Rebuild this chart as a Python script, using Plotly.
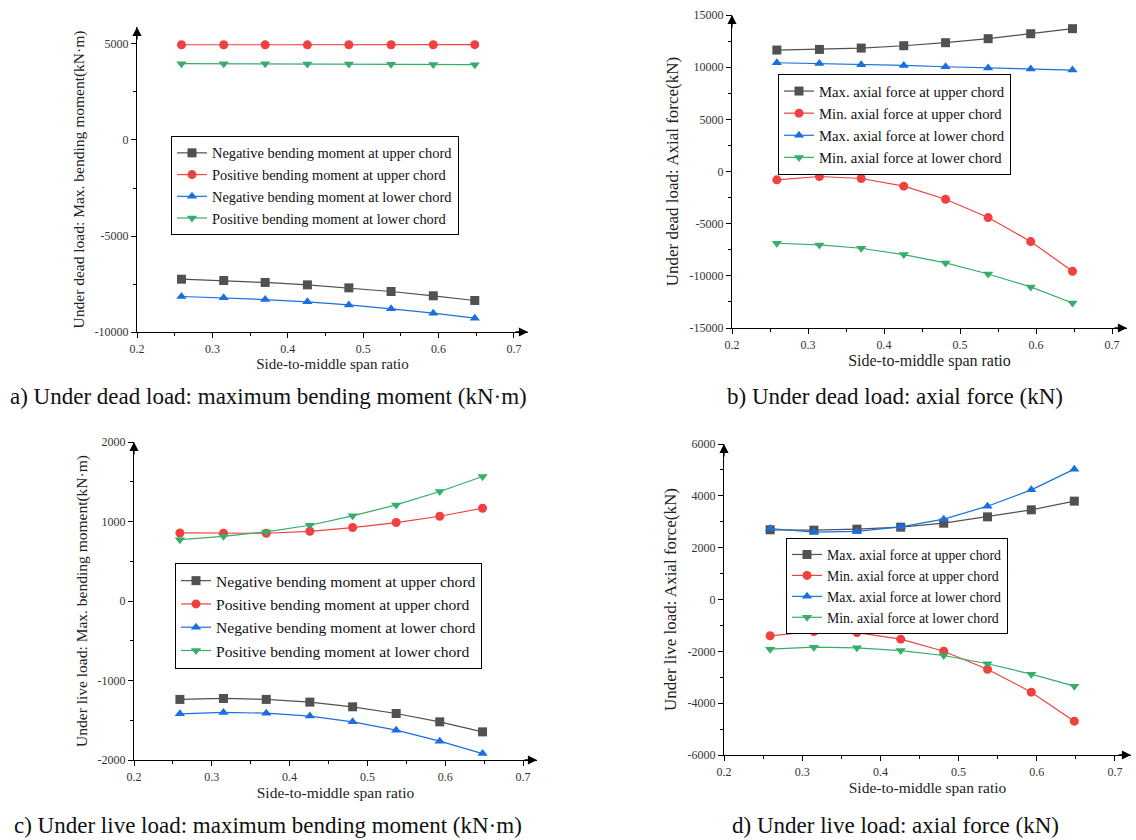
import plotly.graph_objects as go

# ---------------- data ----------------
ratio = [0.259, 0.315, 0.370, 0.426, 0.481, 0.537, 0.593, 0.648]

# a) dead load bending moment (kN·m)
a_neg_upper = [-7250, -7320, -7420, -7545, -7700, -7890, -8115, -8360]
a_pos_upper = [4960, 4958, 4957, 4956, 4958, 4960, 4962, 4965]
a_neg_lower = [-8150, -8220, -8310, -8430, -8590, -8795, -9020, -9280]
a_pos_lower = [3975, 3972, 3968, 3963, 3957, 3948, 3937, 3922]

# b) dead load axial force (kN)
b_max_upper = [11640, 11700, 11830, 12055, 12345, 12730, 13205, 13690]
b_min_upper = [-800, -480, -670, -1405, -2655, -4415, -6715, -9560]
b_max_lower = [10425, 10360, 10235, 10170, 10040, 9915, 9820, 9720]
b_min_lower = [-6875, -7035, -7355, -7965, -8760, -9820, -11065, -12600]

# c) live load bending moment (kN·m)
c_neg_upper = [-1238, -1226, -1238, -1272, -1331, -1415, -1520, -1646]
c_pos_upper = [856, 852, 852, 877, 924, 987, 1066, 1167]
c_neg_lower = [-1419, -1402, -1411, -1448, -1520, -1625, -1763, -1919]
c_pos_lower = [772, 814, 869, 953, 1071, 1209, 1377, 1566]

# d) live load axial force (kN)
d_max_upper = [2690, 2675, 2715, 2790, 2945, 3190, 3460, 3795]
d_min_upper = [-1400, -1235, -1275, -1530, -1995, -2690, -3575, -4695]
d_max_lower = [2740, 2600, 2625, 2805, 3100, 3600, 4230, 5030]
d_min_lower = [-1915, -1840, -1865, -1970, -2160, -2480, -2880, -3345]

names_moment = ["Negative bending moment at upper chord",
                "Positive bending moment at upper chord",
                "Negative bending moment at lower chord",
                "Positive bending moment at lower chord"]
names_axial = ["Max. axial force at upper chord",
               "Min. axial force at upper chord",
               "Max. axial force at lower chord",
               "Min. axial force at lower chord"]

x_ticks = [0.2, 0.3, 0.4, 0.5, 0.6, 0.7]
x_ticktext = ["0.2", "0.3", "0.4", "0.5", "0.6", "0.7"]
a_yticks = [-10000, -5000, 0, 5000]
a_ytext = ["-10000", "-5000", "0", "5000"]
b_yticks = [-15000, -10000, -5000, 0, 5000, 10000, 15000]
b_ytext = ["-15000", "-10000", "-5000", "0", "5000", "10000", "15000"]
c_yticks = [-2000, -1000, 0, 1000, 2000]
c_ytext = ["-2000", "-1000", "0", "1000", "2000"]
d_yticks = [-6000, -4000, -2000, 0, 2000, 4000, 6000]
d_ytext = ["-6000", "-4000", "-2000", "0", "2000", "4000", "6000"]

y_title_a = "Under dead load: Max. bending moment(kN·m)"
y_title_b = "Under dead load: Axial force(kN)"
y_title_c = "Under live load: Max. bending moment(kN·m)"
y_title_d = "Under live load: Axial force(kN)"
x_title = "Side-to-middle span ratio"
captions = ["a) Under dead load: maximum bending moment (kN·m)",
            "b) Under dead load: axial force (kN)",
            "c) Under live load: maximum bending moment (kN·m)",
            "d) Under live load: axial force (kN)"]

# ---------------- style ----------------
W, H = 1136, 840
FONT = "Liberation Serif"
colors = ["#515151", "#F14040", "#1A6FDF", "#37AD6B"]
symbols = ["square", "circle", "triangle-up", "triangle-down"]

def px_x(p):
    return p / W

def px_y(p):
    return 1 - p / H

fig = go.Figure()

panels = [
    dict(series=[a_neg_upper, a_pos_upper, a_neg_lower, a_pos_lower], names=names_moment,
         xd=(137, 528), yd=(27, 332), xr=[0.2, 0.7186], yr=[-10000, 5885],
         yt=a_yticks, ytt=a_ytext, ydt=2500, ytitle=y_title_a,
         leg=(171, 136), legfont=14.4, cap=(268, 396), ytsize=15.5, xtsize=15),
    dict(series=[b_max_upper, b_min_upper, b_max_lower, b_min_lower], names=names_axial,
         xd=(732, 1127), yd=(15, 328), xr=[0.2, 0.7197], yr=[-15000, 15000],
         yt=b_yticks, ytt=b_ytext, ydt=2500, ytitle=y_title_b,
         leg=(778, 74), legfont=14.7, cap=(895, 396), ytsize=17, xtsize=16),
    dict(series=[c_neg_upper, c_pos_upper, c_neg_lower, c_pos_lower], names=names_moment,
         xd=(134, 537), yd=(442, 760), xr=[0.2, 0.718], yr=[-2000, 2000],
         yt=c_yticks, ytt=c_ytext, ydt=500, ytitle=y_title_c,
         leg=(175, 563), legfont=15.6, cap=(268, 825), ytsize=15.5, xtsize=15.5),
    dict(series=[d_max_upper, d_min_upper, d_max_lower, d_min_lower], names=names_axial,
         xd=(724, 1131), yd=(444, 755), xr=[0.2, 0.7205], yr=[-6000, 6000],
         yt=d_yticks, ytt=d_ytext, ydt=1000, ytitle=y_title_d,
         leg=(786, 538), legfont=13.8, cap=(895, 825), ytsize=17, xtsize=15.5),
]

annotations = []
for i, p in enumerate(panels):
    n = "" if i == 0 else str(i + 1)
    legname = "legend" if i == 0 else "legend" + str(i + 1)
    for k, (ys, nm) in enumerate(zip(p["series"], p["names"])):
        fig.add_trace(go.Scatter(
            x=ratio, y=ys, name=nm, mode="lines+markers",
            xaxis="x" + n, yaxis="y" + n, legend=legname,
            line=dict(color=colors[k], width=1.2),
            marker=dict(symbol=symbols[k], size=9, color=colors[k]),
        ))
    fig.update_layout({
        "xaxis" + n: dict(
            domain=[px_x(p["xd"][0]), px_x(p["xd"][1])], range=p["xr"],
            anchor="y" + n, showline=True, linecolor="black", linewidth=1.3,
            showgrid=False, zeroline=False, ticks="outside", ticklen=5,
            tickcolor="black", tickvals=x_ticks, ticktext=x_ticktext, automargin=False,
            tickfont=dict(family=FONT, size=12, color="#333"),
            minor=dict(ticks="outside", ticklen=3, tickcolor="black", dtick=0.05, tick0=0.2),
            title=dict(text=x_title, font=dict(family=FONT, size=p["xtsize"], color="#222"), standoff=2),
        ),
        "yaxis" + n: dict(
            domain=[px_y(p["yd"][1]), px_y(p["yd"][0])], range=p["yr"],
            anchor="x" + n, showline=True, linecolor="black", linewidth=1.3,
            showgrid=False, zeroline=False, ticks="outside", ticklen=5,
            tickcolor="black", tickvals=p["yt"], ticktext=p["ytt"], automargin=False,
            tickfont=dict(family=FONT, size=12, color="#333"),
            minor=dict(ticks="outside", ticklen=3, tickcolor="black", dtick=p["ydt"], tick0=0),
            title=dict(text=p["ytitle"], font=dict(family=FONT, size=p["ytsize"], color="#222"), standoff=6),
        ),
        legname: dict(
            x=px_x(p["leg"][0]), y=px_y(p["leg"][1]), xanchor="left", yanchor="top",
            bgcolor="white", bordercolor="black", borderwidth=1,
            font=dict(family=FONT, size=p["legfont"], color="#111"),
            tracegroupgap=0, itemwidth=30,
        ),
    })
    # axis arrows
    annotations.append(dict(xref="x" + n + " domain", yref="y" + n + " domain", x=1, y=0,
                            ax=-14, ay=0, text="", showarrow=True, arrowhead=2,
                            arrowsize=1.4, arrowwidth=1.3, arrowcolor="black"))
    annotations.append(dict(xref="x" + n + " domain", yref="y" + n + " domain", x=0, y=1,
                            ax=0, ay=14, text="", showarrow=True, arrowhead=2,
                            arrowsize=1.4, arrowwidth=1.3, arrowcolor="black"))
    annotations.append(dict(xref="paper", yref="paper", x=px_x(p["cap"][0]), y=px_y(p["cap"][1]),
                            text=captions[i], showarrow=False, xanchor="center", yanchor="middle",
                            font=dict(family=FONT, size=23, color="#111")))

fig.update_layout(
    width=W, height=H, margin=dict(l=0, r=0, t=0, b=0),
    paper_bgcolor="white", plot_bgcolor="white",
    annotations=annotations, showlegend=True,
)

fig.write_html("out.html")
